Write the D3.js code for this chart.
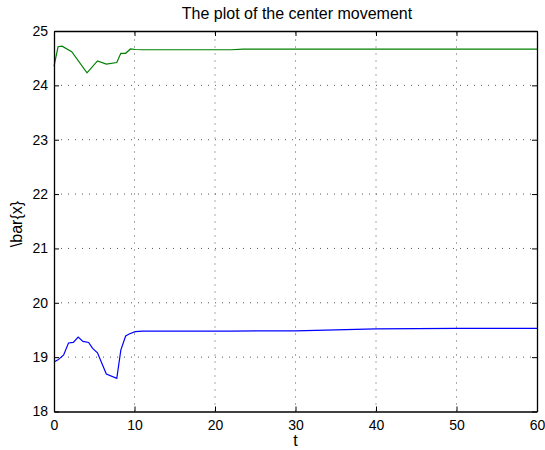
<!DOCTYPE html>
<html><head><meta charset="utf-8">
<script src="https://cdn.jsdelivr.net/npm/d3@7/dist/d3.min.js"></script>
<style>body{margin:0;background:#fff;} svg{display:block;}</style>
</head><body>
<script>
const xTicks = [0,10,20,30,40,50,60];
const yTicks = [18,19,20,21,22,23,24,25];
const tGreen = [0,0.5,1.0,2.2,4.1,5.4,6.5,7.8,8.3,8.9,9.5,10.1,11,22,23.5,60];
const vGreen = [24.35,24.71,24.72,24.62,24.23,24.45,24.39,24.42,24.59,24.59,24.67,24.66,24.655,24.655,24.665,24.665];
const tBlue = [0,0.5,1.2,1.8,2.4,3.0,3.6,4.3,4.8,5.4,6.5,7.8,8.3,8.9,9.4,10.1,11,22,30,35,40,50,60];
const vBlue = [18.91,18.95,19.04,19.26,19.27,19.37,19.29,19.27,19.16,19.08,18.69,18.61,19.13,19.39,19.43,19.47,19.48,19.48,19.485,19.50,19.52,19.53,19.53];
const title = "The plot of the center movement";
const xLabel = "t";
const yLabel = "\\bar{x}";

const W = 545, H = 450;
const L = 54, R = 537, T = 31, B = 411.5;
const FONT = "'Liberation Sans', Arial, Helvetica, sans-serif";
const svg = d3.select("body").append("svg").attr("width", W).attr("height", H)
  .style("font-family", FONT);
const x = d3.scaleLinear().domain([0,60]).range([L,R]);
const y = d3.scaleLinear().domain([18,25]).range([B,T]);

// grid
const g = svg.append("g");
g.selectAll(".gx").data(xTicks.slice(1,-1)).enter().append("line")
  .attr("x1", d=>x(d)).attr("x2", d=>x(d)).attr("y1", B).attr("y2", T)
  .attr("stroke", "#555").attr("stroke-width", 1).attr("stroke-dasharray", "1,6");
g.selectAll(".gy").data(yTicks.slice(1,-1)).enter().append("line")
  .attr("y1", d=>y(d)).attr("y2", d=>y(d)).attr("x1", L).attr("x2", R)
  .attr("stroke", "#555").attr("stroke-width", 1).attr("stroke-dasharray", "1,6");

// lines
const line = d3.line().x(d=>x(d[0])).y(d=>y(d[1]));
svg.append("path").datum(tGreen.map((t,i)=>[t,vGreen[i]])).attr("d", line)
  .attr("fill","none").attr("stroke","#008000").attr("stroke-width",1.2);
svg.append("path").datum(tBlue.map((t,i)=>[t,vBlue[i]])).attr("d", line)
  .attr("fill","none").attr("stroke","#0000ff").attr("stroke-width",1.2);

// axes
const fmt = d3.format("d");
const xAxB = d3.axisBottom(x).tickValues(xTicks).tickFormat(fmt).tickSizeInner(-5).tickSizeOuter(0).tickPadding(8.5);
const xAxT = d3.axisTop(x).tickValues(xTicks).tickSizeInner(-5).tickSizeOuter(0).tickFormat("");
const yAxL = d3.axisLeft(y).tickValues(yTicks).tickFormat(fmt).tickSizeInner(-5).tickSizeOuter(0).tickPadding(6);
const yAxR = d3.axisRight(y).tickValues(yTicks).tickSizeInner(-5).tickSizeOuter(0).tickFormat("");
function style(sel){
  sel.selectAll("path").attr("stroke","#000").attr("stroke-width",1.3);
  sel.selectAll("line").attr("stroke","#000").attr("stroke-width",1);
  sel.selectAll("text").attr("fill","#000").style("font-size","14px").style("font-family",FONT);
}
svg.append("g").attr("transform",`translate(0,${B})`).call(xAxB).call(style);
svg.append("g").attr("transform",`translate(0,${T})`).call(xAxT).call(style);
svg.append("g").attr("transform",`translate(${L},0)`).call(yAxL).call(style);
svg.append("g").attr("transform",`translate(${R},0)`).call(yAxR).call(style);

svg.append("text").attr("x", 297).attr("y", 18.5).attr("text-anchor","middle")
  .style("font-size","16px").text(title);
svg.append("text").attr("x", (L+R)/2).attr("y", 446).attr("text-anchor","middle")
  .style("font-size","16px").text(xLabel);
svg.append("text").attr("transform", `translate(21.5,224) rotate(-90)`).attr("text-anchor","middle")
  .style("font-size","16px").text(yLabel);
</script>
</body></html>
